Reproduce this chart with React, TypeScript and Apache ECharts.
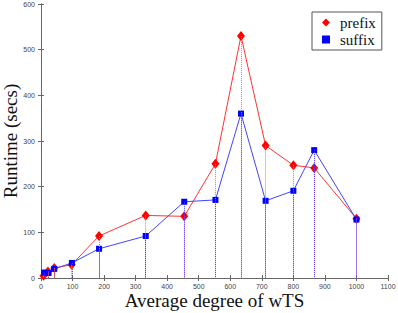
import React, { useEffect, useRef } from "react";
import * as echarts from "echarts";

const prefixX = [8, 22, 42, 97, 184, 332, 454, 553, 634, 712, 800, 866, 1000];
const prefixY = [5, 14, 22, 29, 92, 137, 135, 250, 530, 290, 247, 241, 130];
const suffixX = [10, 24, 42, 98, 184, 332, 454, 553, 634, 712, 800, 866, 1000];
const suffixY = [12, 11, 20, 33, 64, 92, 167, 171, 360, 169, 191, 280, 128];
const xTitle = "Average degree of wTS";
const yTitle = "Runtime (secs)";
const seriesNames = ["prefix", "suffix"];

const AXIS = "#666";
const TICKFONT = { fontFamily: "Liberation Sans", fontSize: 7, color: "#444", formatter: (v: number) => String(v) };

function stems(xs: number[], ys: number[]) {
  return xs.map((x, i) => [{ coord: [x, ys[i]] }, { coord: [x, 0] }]);
}

export default function App() {
  const ref = useRef<HTMLDivElement>(null);
  useEffect(() => {
    const chart = echarts.init(ref.current!, undefined, { renderer: "svg" });
    const xBase = {
      type: "value",
      min: 0,
      max: 1100,
      interval: 100,
      splitLine: { show: false },
      axisLine: { lineStyle: { color: AXIS, width: 1 } },
      axisTick: { inside: true, length: 3, lineStyle: { color: AXIS } },
    };
    const yBase = {
      type: "value",
      min: 0,
      max: 600,
      interval: 100,
      splitLine: { show: false },
      axisLine: { show: true, lineStyle: { color: AXIS, width: 1 } },
      axisTick: { show: true, inside: true, length: 3, lineStyle: { color: AXIS } },
    };
    chart.setOption({
      animation: false,
      grid: { left: 41, right: 10, top: 4, bottom: 35, containLabel: false, outerBoundsMode: "none" },
      xAxis: [
        {
          ...xBase,
          position: "bottom",
          axisLabel: { ...TICKFONT, margin: 5 },
          name: xTitle,
          nameLocation: "middle",
          nameGap: 13,
          nameMoveOverlap: false,
          nameTextStyle: { fontFamily: "Liberation Serif", fontSize: 19, color: "#111", verticalAlign: "top" },
        },
        { ...xBase, position: "top", axisLabel: { show: false } },
      ],
      yAxis: [
        {
          ...yBase,
          position: "left",
          axisLabel: { ...TICKFONT, margin: 6 },
          name: yTitle,
          nameLocation: "middle",
          nameGap: 21,
          nameMoveOverlap: false,
          nameTextStyle: { fontFamily: "Liberation Serif", fontSize: 19, color: "#111" },
        },
        { ...yBase, position: "right", axisLabel: { show: false } },
      ],
      legend: {
        left: 312,
        top: 12,
        orient: "vertical",
        width: 68,
        padding: [3, 6, 3, 10],
        itemWidth: 8,
        itemHeight: 8,
        itemGap: 2,
        borderColor: "#555",
        borderWidth: 1,
        backgroundColor: "#fff",
        textStyle: { fontFamily: "Liberation Serif", fontSize: 15, lineHeight: 15, color: "#111", padding: [0, 0, 0, 5] },
        data: [
          { name: seriesNames[0], icon: "diamond", itemStyle: { color: "#ff0000" } },
          { name: seriesNames[1], icon: "path://M2,2h6v6h-6z", itemStyle: { color: "#0000ff" } },
        ],
      },
      series: [
        {
          name: seriesNames[0],
          type: "line",
          data: prefixX.map((x, i) => [x, prefixY[i]]),
          symbol: "diamond",
          symbolSize: [8, 10],
          itemStyle: { color: "#ff0000" },
          lineStyle: { color: "#ff3333", width: 1 },
          markLine: {
            silent: true,
            symbol: "none",
            label: { show: false },
            lineStyle: { color: "#ff6666", type: "dotted", width: 1 },
            data: stems(prefixX, prefixY),
          },
          z: 3,
        },
        {
          name: seriesNames[1],
          type: "line",
          data: suffixX.map((x, i) => [x, suffixY[i]]),
          symbol: "rect",
          symbolSize: 6,
          itemStyle: { color: "#0000ff" },
          lineStyle: { color: "#4444ff", width: 1 },
          markLine: {
            silent: true,
            symbol: "none",
            label: { show: false },
            lineStyle: { color: "#5533ff", type: "dotted", width: 1 },
            data: stems(suffixX, suffixY),
          },
          z: 4,
        },
      ],
    });
    return () => chart.dispose();
  }, []);
  return <div ref={ref} style={{ width: 398, height: 313, position: "absolute", left: 0, top: 0, background: "#fff" }} />;
}
